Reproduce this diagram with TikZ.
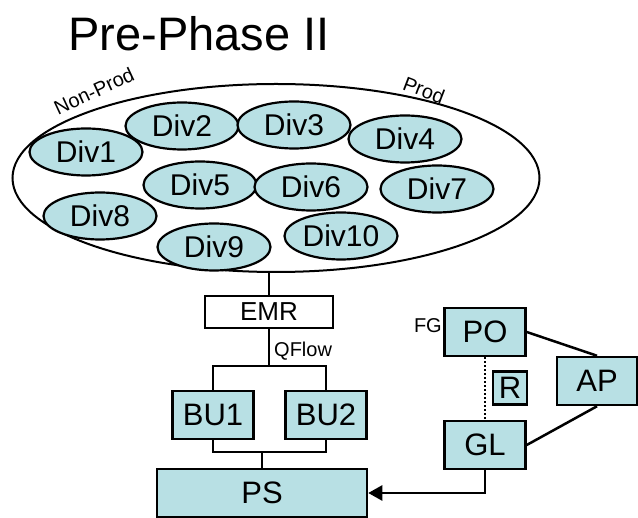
\documentclass[tikz,border=0pt]{standalone}
\usepackage{fontspec}
\setmainfont{Liberation Sans}
\usetikzlibrary{shapes,arrows.meta,positioning}
\definecolor{divfill}{RGB}{184,224,228}

\begin{document}
\begin{tikzpicture}[x=1pt,y=-1pt]
\tikzstyle{div}=[draw,ellipse,fill=divfill,line width=2.2pt,minimum width=113pt,minimum height=47pt,inner sep=0pt,font=\fontsize{30}{30}\selectfont]
\tikzstyle{box}=[draw,rectangle,fill=divfill,line width=2.5pt,minimum width=81pt,minimum height=48pt,inner sep=0pt,font=\fontsize{31}{31}\selectfont]
\tikzstyle{tag}=[inner sep=0pt,font=\fontsize{20}{20}\selectfont]
\tikzstyle{link}=[line width=2.5pt]
\useasboundingbox (0,0) rectangle (638,518);
\node[font=\fontsize{47}{47}\selectfont] (title) at (199,34) {Pre-Phase II};
% the organisation
\node[draw,ellipse,line width=2pt,minimum width=527pt,minimum height=188pt] (org) at (276,178) {};
\node[tag,rotate=25] (nonprod) at (94,91) {Non-Prod};
\node[tag,rotate=-21] (prod) at (424,90) {Prod};
\node[div] (div1) at (86,152) {Div1};
\node[div] (div2) at (182,126) {Div2};
\node[div] (div3) at (294,125) {Div3};
\node[div] (div4) at (405,139) {Div4};
\node[div] (div5) at (200,185) {Div5};
\node[div] (div6) at (311,187) {Div6};
\node[div] (div7) at (437,189) {Div7};
\node[div] (div8) at (100,216) {Div8};
\node[div] (div9) at (214,247) {Div9};
\node[div] (div10) at (341,236) {Div10};
% flow down
\node[box,fill=white,minimum width=128pt,minimum height=32pt,font=\fontsize{26}{26}\selectfont] (emr) at (269,312) {EMR};
\node[box] (bu1) at (213,415) {BU1};
\node[box] (bu2) at (326,415) {BU2};
\node[box,minimum width=210pt] (ps) at (262,493) {PS};
\coordinate (qsplit) at (269,366);
\coordinate (bujoin) at (262,452);
\node[tag,anchor=west] (qflow) at (274,351) {QFlow};
% right side
\node[box] (po) at (485,332) {PO};
\node[tag,anchor=east] (fg) at (442,326) {FG};
\node[box,minimum width=34pt,minimum height=33pt] (r) at (510,388) {R};
\node[box,minimum width=80pt] (ap) at (597,381) {AP};
\node[box] (gl) at (485,445) {GL};
\draw[link] (emr.north) -- (emr.north |- org.south);
\draw[link] (emr.south) -- (qsplit);
\draw[link] (bu1.north) |- (qsplit) -| (bu2.north);
\draw[link] (bu1.south) |- (bujoin) -| (bu2.south);
\draw[link] (bujoin) -- (ps.north);
\draw[link,dash pattern=on 2pt off 2pt] (po.south) -- (gl.north);
\draw[link] (po.east) -- (ap.north);
\draw[link] (gl.east) -- (ap.south);
\draw[link,-{Triangle[length=14pt,width=15pt]}] (gl.south) |- (ps.east);
\end{tikzpicture}
\end{document}
